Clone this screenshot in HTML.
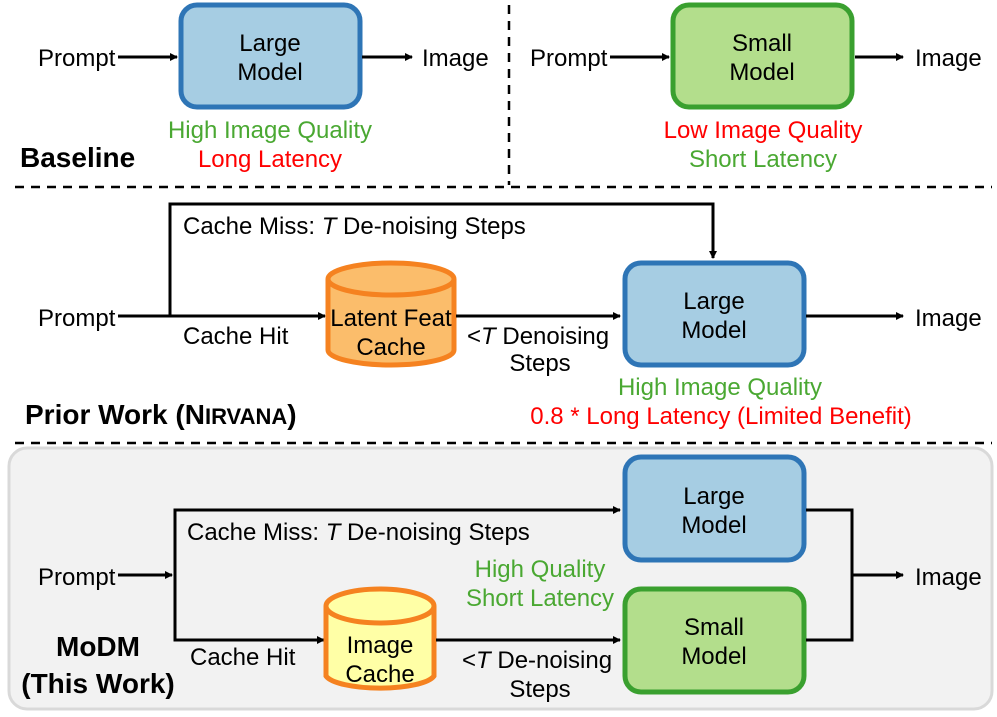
<!DOCTYPE html>
<html><head><meta charset="utf-8"><style>
html,body{margin:0;padding:0;background:#fff;}
svg{display:block;font-family:"Liberation Sans",Arial,sans-serif;}
</style></head><body>
<svg width="997" height="717" viewBox="0 0 997 717" xmlns="http://www.w3.org/2000/svg">
<defs>
<marker id="ar" markerWidth="8" markerHeight="8" refX="7" refY="4" orient="auto" markerUnits="userSpaceOnUse">
<path d="M0,0 L8,4 L0,8 z" fill="#000"/></marker>
</defs>
<g font-size="24" fill="#000">
<!-- Top section -->
<rect x="181" y="5" width="179" height="102" rx="16" fill="#a6cde3" stroke="#2e75b6" stroke-width="5"/>
<text x="270" y="51" text-anchor="middle">Large</text>
<text x="270" y="80" text-anchor="middle">Model</text>
<text x="38" y="66">Prompt</text>
<line x1="118" y1="57" x2="177" y2="57" stroke="#000" stroke-width="3" marker-end="url(#ar)"/>
<line x1="362" y1="57" x2="412" y2="57" stroke="#000" stroke-width="3" marker-end="url(#ar)"/>
<text x="422" y="66">Image</text>
<text x="270" y="138" text-anchor="middle" fill="#4aa832">High Image Quality</text>
<text x="270" y="167" text-anchor="middle" fill="#ff0000">Long Latency</text>
<text x="20" y="167" font-weight="bold" font-size="28">Baseline</text>

<rect x="673" y="5" width="179" height="102" rx="16" fill="#b3de8c" stroke="#3aa02f" stroke-width="5"/>
<text x="762" y="51" text-anchor="middle">Small</text>
<text x="762" y="80" text-anchor="middle">Model</text>
<text x="530" y="66">Prompt</text>
<line x1="610" y1="57" x2="669" y2="57" stroke="#000" stroke-width="3" marker-end="url(#ar)"/>
<line x1="855" y1="57" x2="903" y2="57" stroke="#000" stroke-width="3" marker-end="url(#ar)"/>
<text x="915" y="66">Image</text>
<text x="763" y="138" text-anchor="middle" fill="#ff0000">Low Image Quality</text>
<text x="763" y="167" text-anchor="middle" fill="#4aa832">Short Latency</text>

<line x1="509" y1="5" x2="509" y2="185" stroke="#000" stroke-width="2.5" stroke-dasharray="9,7"/>
<line x1="15" y1="187" x2="992" y2="187" stroke="#000" stroke-width="2.5" stroke-dasharray="9,7"/>

<!-- Middle -->
<polyline points="170,317 170,204 713,204 713,258" fill="none" stroke="#000" stroke-width="3" marker-end="url(#ar)"/>
<text x="183" y="234">Cache Miss: <tspan font-style="italic">T</tspan> De-noising Steps</text>
<text x="38" y="326">Prompt</text>
<line x1="118" y1="316" x2="325" y2="316" stroke="#000" stroke-width="3" marker-end="url(#ar)"/>
<text x="183" y="344">Cache Hit</text>
<path d="M328,279 L328,350 A63,15 0 0 0 454,350 L454,279" fill="#fbbd6b" stroke="#f58220" stroke-width="5"/>
<ellipse cx="391" cy="279" rx="63" ry="16" fill="#fbbd6b" stroke="#f58220" stroke-width="5"/>
<text x="391" y="326" text-anchor="middle">Latent Feat</text>
<text x="391" y="355" text-anchor="middle">Cache</text>
<line x1="456" y1="316" x2="620" y2="316" stroke="#000" stroke-width="3" marker-end="url(#ar)"/>
<text x="467" y="344">&lt;<tspan font-style="italic">T</tspan> Denoising</text>
<text x="540" y="371" text-anchor="middle">Steps</text>
<rect x="625" y="263" width="179" height="102" rx="16" fill="#a6cde3" stroke="#2e75b6" stroke-width="5"/>
<text x="714" y="309" text-anchor="middle">Large</text>
<text x="714" y="338" text-anchor="middle">Model</text>
<line x1="806" y1="316" x2="903" y2="316" stroke="#000" stroke-width="3" marker-end="url(#ar)"/>
<text x="915" y="326">Image</text>
<text x="720" y="395" text-anchor="middle" fill="#4aa832">High Image Quality</text>
<text x="721" y="424" text-anchor="middle" fill="#ff0000">0.8 * Long Latency (Limited Benefit)</text>
<text x="25" y="424" font-weight="bold" font-size="28">Prior Work (N<tspan font-size="22">IRVANA</tspan>)</text>

<line x1="15" y1="443" x2="992" y2="443" stroke="#000" stroke-width="2.5" stroke-dasharray="9,7"/>

<!-- Bottom -->
<rect x="9" y="448" width="983" height="261" rx="18" fill="#f2f2f2" stroke="#d9d9d9" stroke-width="3"/>
<rect x="625" y="457" width="179" height="103" rx="16" fill="#a6cde3" stroke="#2e75b6" stroke-width="5"/>
<text x="714" y="504" text-anchor="middle">Large</text>
<text x="714" y="533" text-anchor="middle">Model</text>
<rect x="625" y="589" width="179" height="103" rx="16" fill="#b3de8c" stroke="#3aa02f" stroke-width="5"/>
<text x="714" y="635" text-anchor="middle">Small</text>
<text x="714" y="664" text-anchor="middle">Model</text>
<text x="38" y="585">Prompt</text>
<line x1="118" y1="575" x2="172" y2="575" stroke="#000" stroke-width="3" marker-end="url(#ar)"/>
<polyline points="620,510 175,510 175,640 324,640" fill="none" stroke="#000" stroke-width="3"/>
<line x1="600" y1="510" x2="620" y2="510" stroke="#000" stroke-width="3" marker-end="url(#ar)"/>
<line x1="300" y1="640" x2="324" y2="640" stroke="#000" stroke-width="3" marker-end="url(#ar)"/>
<text x="187" y="540">Cache Miss: <tspan font-style="italic">T</tspan> De-noising Steps</text>
<text x="190" y="665">Cache Hit</text>
<path d="M326,606 L326,676 A55,15 0 0 0 434,676 L434,606" fill="#ffffa6" stroke="#f58220" stroke-width="5"/>
<ellipse cx="380" cy="606" rx="54" ry="17" fill="#ffffa6" stroke="#f58220" stroke-width="5"/>
<text x="380" y="653" text-anchor="middle">Image</text>
<text x="380" y="682" text-anchor="middle">Cache</text>
<line x1="436" y1="640" x2="620" y2="640" stroke="#000" stroke-width="3" marker-end="url(#ar)"/>
<text x="462" y="668">&lt;<tspan font-style="italic">T</tspan> De-noising</text>
<text x="540" y="697" text-anchor="middle">Steps</text>
<text x="540" y="577" text-anchor="middle" fill="#4aa832">High Quality</text>
<text x="540" y="606" text-anchor="middle" fill="#4aa832">Short Latency</text>
<polyline points="806,510 852,510 852,640 806,640" fill="none" stroke="#000" stroke-width="3"/>
<line x1="852" y1="575" x2="903" y2="575" stroke="#000" stroke-width="3" marker-end="url(#ar)"/>
<text x="915" y="585">Image</text>
<text x="98" y="656" text-anchor="middle" font-weight="bold" font-size="28">MoDM</text>
<text x="98" y="693" text-anchor="middle" font-weight="bold" font-size="28">(This Work)</text>
</g>
</svg>
</body></html>
